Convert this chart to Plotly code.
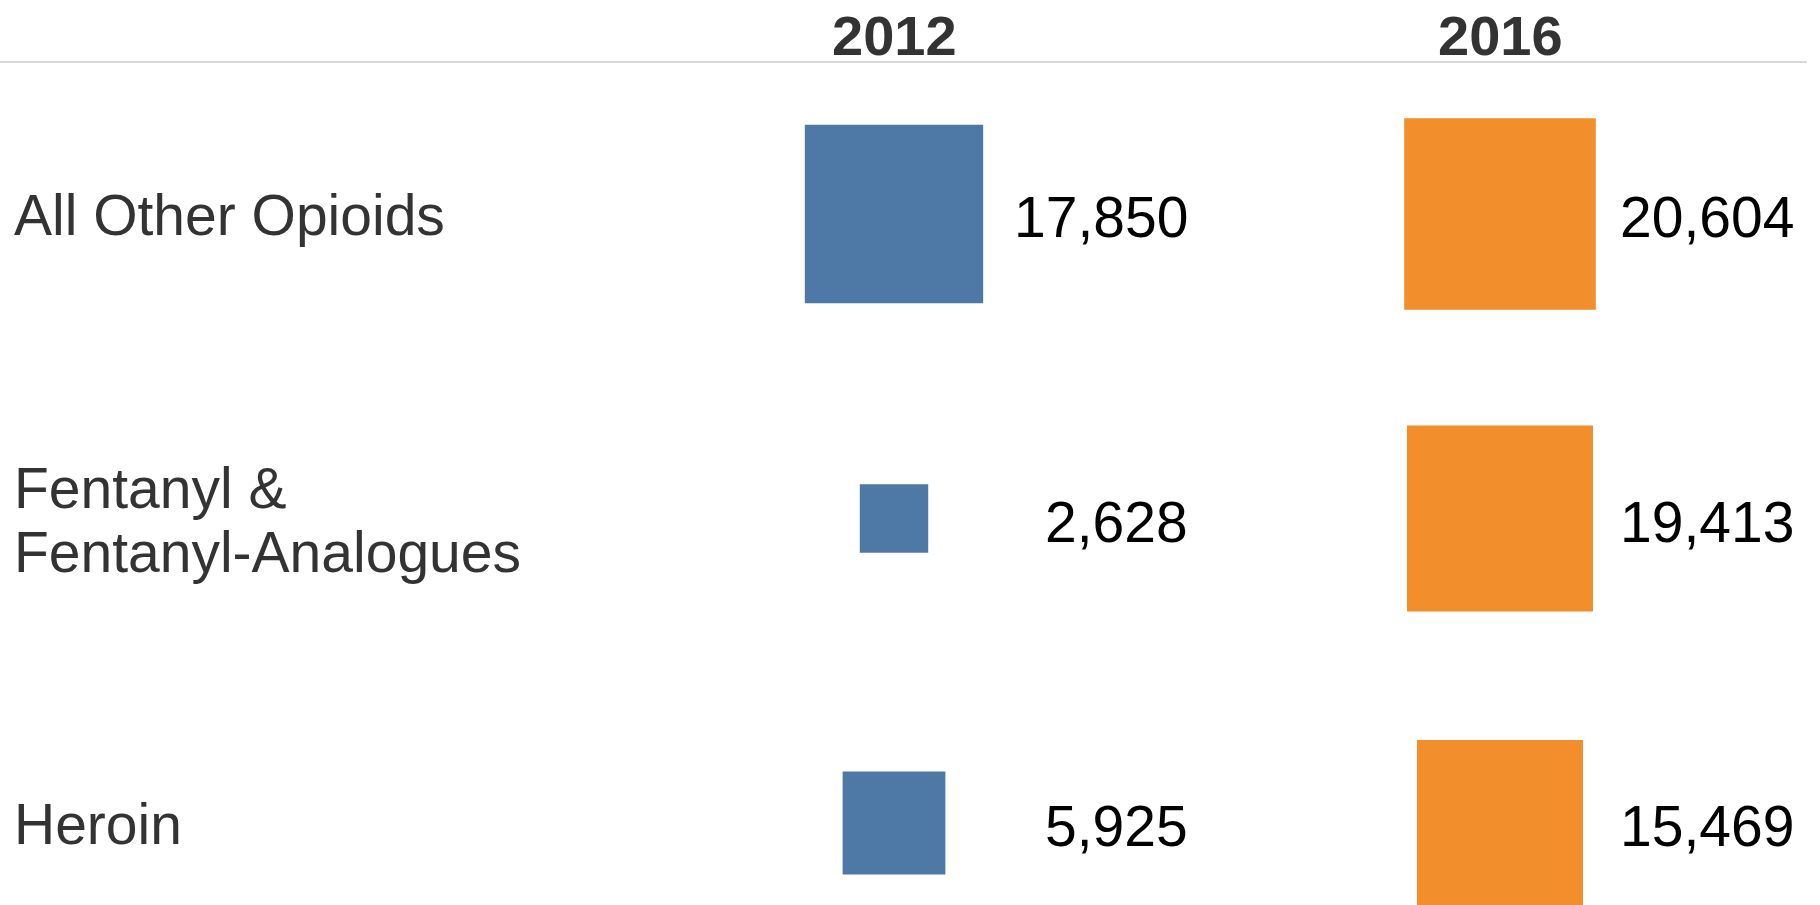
import math
import plotly.graph_objects as go

# ---- data ----
categories = ["All Other Opioids", "Fentanyl &<br>Fentanyl-Analogues", "Heroin"]
years = ["2012", "2016"]
values_2012 = [17850, 2628, 5925]
values_2016 = [20604, 19413, 15469]
year_colors = {"2012": "#4e79a7", "2016": "#f28e2b"}

W, H = 1820, 905
SIZE_K = 1.335  # px of square side per sqrt(value)
FONT = "Liberation Sans, Arial, Helvetica, sans-serif"

fig = go.Figure()
series = {"2012": values_2012, "2016": values_2016}
for yr in years:
    vals = series[yr]
    fig.add_trace(go.Scatter(
        x=[yr] * len(categories),
        y=categories,
        mode="markers",
        marker=dict(symbol="square", size=[SIZE_K * math.sqrt(v) for v in vals],
                    color=year_colors[yr], opacity=1, line=dict(width=0)),
        hoverinfo="skip",
        showlegend=False,
    ))

annotations = []
# value labels, right-aligned
for xi, yr in enumerate(years):
    for yi, v in enumerate(series[yr]):
        annotations.append(dict(
            x=xi, y=yi, xref="x", yref="y", text=f"{v:,}", showarrow=False,
            xanchor="right", yanchor="middle", xshift=296, yshift=-3,
            font=dict(family=FONT, size=57, color="#000000"),
        ))
# row labels (multi-line labels laid out line by line)
LINE_PX = 64
for yi, cat in enumerate(categories):
    lines = cat.split("<br>")
    n = len(lines)
    for li, line in enumerate(lines):
        offset = ((n - 1) / 2 - li) * LINE_PX
        annotations.append(dict(
            x=0.0, y=yi, xref="paper", yref="y", text=line, showarrow=False,
            xanchor="left", yanchor="middle", align="left", yshift=offset - 1, xshift=12,
            font=dict(family=FONT, size=57, color="#333333"),
        ))
# column headers
for xi, yr in enumerate(years):
    annotations.append(dict(
        x=xi, y=1 - 35 / H, xref="x", yref="paper", text=f"<b>{yr}</b>", showarrow=False,
        xanchor="center", yanchor="middle",
        font=dict(family=FONT, size=56, color="#333333"),
    ))

px_per_col = 606.0
x0_px = 894.0
row_px = 304.5
y0_px = 214.0

fig.update_layout(
    width=W, height=H,
    margin=dict(l=0, r=0, t=0, b=0),
    paper_bgcolor="white", plot_bgcolor="white",
    xaxis=dict(type="category", categoryorder="array", categoryarray=years,
               range=[-x0_px / px_per_col, (W - x0_px) / px_per_col],
               showgrid=False, zeroline=False, showticklabels=False, showline=False, fixedrange=True),
    yaxis=dict(type="category", categoryorder="array", categoryarray=categories,
               range=[(H - y0_px) / row_px, -y0_px / row_px],
               showgrid=False, zeroline=False, showticklabels=False, showline=False, fixedrange=True),
    annotations=annotations,
    shapes=[dict(type="line", xref="paper", yref="paper", x0=0, x1=1807 / W,
                 y0=1 - 62 / H, y1=1 - 62 / H, line=dict(color="#d9d9d9", width=2))],
    hovermode=False,
)

fig.write_html("out.html", config={"displayModeBar": False},
               post_script="document.body.style.margin='0';")
